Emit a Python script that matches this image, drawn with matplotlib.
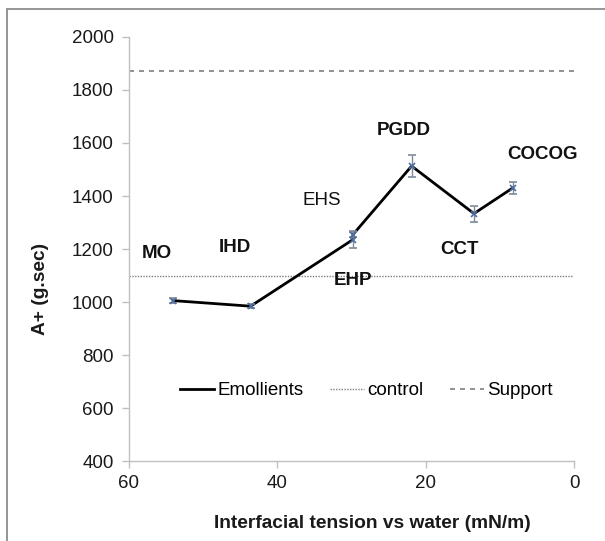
import numpy as np
import matplotlib.pyplot as plt
from matplotlib.patches import Rectangle

plt.rcParams['font.family'] = ['Liberation Sans', 'DejaVu Sans']

# emollient points, in plotting order
names = ['MO', 'IHD', 'EHP', 'EHS', 'PGDD', 'CCT', 'COCOG']
tension = [54.0, 43.6, 29.8, 29.8, 21.9, 13.5, 8.3]
area = [1006, 985, 1236, 1255, 1513, 1334, 1430]
err = [10, 8, 31, 10, 40, 30, 22]

control = 1100
support = 1870

# label positions (x, y) and bold flag
label_x = [56.3, 45.7, 29.8, 34.0, 23.0, 15.5, 4.3]
label_y = [1185, 1206, 1080, 1384, 1648, 1197, 1556]
label_bold = [True, True, True, False, True, True, True]

fig = plt.figure(figsize=(6.05, 5.41), dpi=100)
ax = fig.add_axes([0.213, 0.147, 0.736, 0.785])

ax.plot(tension, area, color='black', lw=2, label='Emollients', zorder=3)
ax.errorbar(tension, area, yerr=err, fmt='x', color='#4f6fa0', ms=4, mew=1.2,
            ecolor='#7f8a99', elinewidth=1, capsize=3, zorder=4)
ax.plot([60, 0], [control, control], color='#7f7f7f', lw=1, ls=(0, (1, 1)), label='control')
ax.plot([60, 0], [support, support], color='#7f7f7f', lw=1.2, ls=(0, (3, 3)), label='Support')

for n, x, y, b in zip(names, label_x, label_y, label_bold):
    ax.text(x, y, n, ha='center', va='center', fontsize=13.5,
            fontweight='bold' if b else 'normal', color='#111111')

ax.set_xlim(60, 0)
ax.set_ylim(400, 2000)
ax.set_xticks([60, 40, 20, 0])
ax.set_yticks(np.arange(400, 2001, 200))

for s in ['top', 'right']:
    ax.spines[s].set_visible(False)
for s in ['left', 'bottom']:
    ax.spines[s].set_color('#c0c0c0')
    ax.spines[s].set_linewidth(1)
ax.tick_params(axis='both', colors='#c0c0c0', labelcolor='#1a1a1a', labelsize=13.5, length=5, width=1)
ax.tick_params(axis='y', pad=6)
ax.tick_params(axis='x', pad=5)

ax.set_xlabel('Interfacial tension vs water (mN/m)', fontsize=13.8, fontweight='bold', color='#1a1a1a')
ax.set_ylabel('A+ (g.sec)', fontsize=13.8, fontweight='bold', color='#1a1a1a')
ax.xaxis.set_label_coords(0.546, -0.126)
ax.yaxis.set_label_coords(-0.18, 0.406)

leg = ax.legend(loc='center', bbox_to_anchor=(0.606, 0.278), bbox_transform=fig.transFigure,
                ncol=3, frameon=False, fontsize=13.5, handlelength=1.8, columnspacing=1.4,
                handletextpad=0.2)

# outer gray frame, cut at right and bottom as in the source image
fig.patches.append(Rectangle((0.012, -0.1), 1.2, 0.1 + 1 - 9.5 / 541, transform=fig.transFigure,
                             fill=False, edgecolor='#8c8c8c', lw=1.3))

fig.savefig('out.png', dpi=100)
